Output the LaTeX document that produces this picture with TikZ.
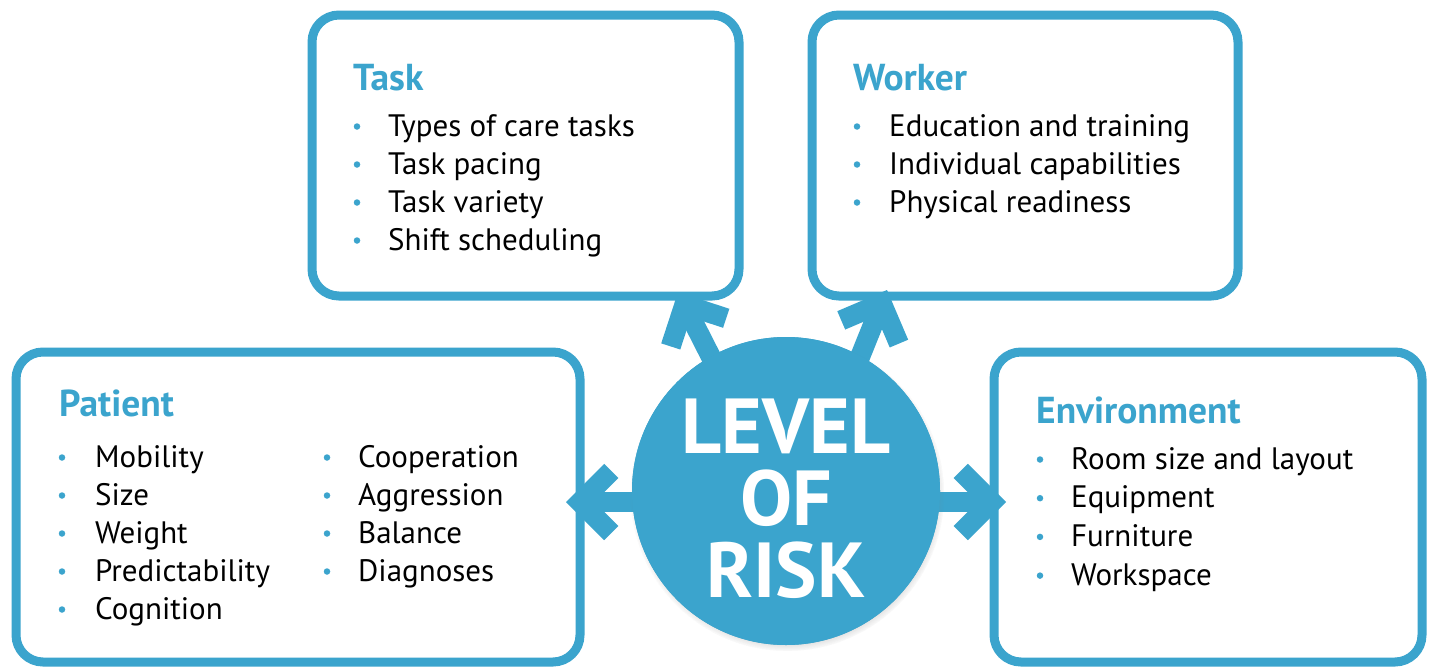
\documentclass[tikz,border=0pt]{standalone}
\usepackage{fontspec}
\setmainfont{PT Sans}
\usetikzlibrary{arrows.meta,shadows}

\definecolor{riskblue}{HTML}{3BA4CD}

% Thick open chevron tip for the risk connectors
\pgfdeclarearrow{
  name = Chevron,
  setup code = {
    \pgfarrowssettipend{0pt}
    \pgfarrowssetlineend{-20pt}
    \pgfarrowssetbackend{-52.3pt}
    \pgfarrowshullpoint{0pt}{0pt}
    \pgfarrowsupperhullpoint{-52.3pt}{38.2pt}
  },
  drawing code = {
    \pgfpathmoveto{\pgfpoint{0pt}{0pt}}
    \pgfpathlineto{\pgfpoint{-38.2pt}{38.2pt}}
    \pgfpathlineto{\pgfpoint{-52.3pt}{24.0pt}}
    \pgfpathlineto{\pgfpoint{-28.3pt}{0pt}}
    \pgfpathlineto{\pgfpoint{-52.3pt}{-24.0pt}}
    \pgfpathlineto{\pgfpoint{-38.2pt}{-38.2pt}}
    \pgfpathclose
    \pgfusepathqfill
  }
}

\tikzset{
  panel/.style={draw=riskblue, line width=9pt, rounded corners=27pt,
    fill=white, inner sep=0pt},
  head/.style={anchor=base west, inner sep=0pt, text=riskblue,
    font=\fontsize{37.5}{37.5}\selectfont\bfseries},
  entry/.style={anchor=base west, inner sep=0pt, text=black,
    font=\fontsize{31}{31}\selectfont},
  dot/.style={circle, fill=riskblue, inner sep=0pt, minimum size=6.5pt},
  link/.style={draw, color=riskblue, line width=20pt, -{Chevron}},
  hub/.style={circle, fill=riskblue, inner sep=0pt, minimum size=308pt,
    circular drop shadow={shadow xshift=1pt, shadow yshift=-3pt,
      opacity=0.35, shadow scale=1.02}},
  hubtext/.style={align=center, text=white, inner sep=0pt,
    font=\fontsize{78}{72}\selectfont\bfseries},
}

\begin{document}
\begin{tikzpicture}[x=1pt,y=-1pt]
\useasboundingbox[fill=white] (0,0) rectangle (1430,667);

% Four factor panels
\node[panel, minimum width=427pt, minimum height=281pt] (task)    at (525.5,155.5) {};
\node[panel, minimum width=426pt, minimum height=281pt] (worker)  at (1025,155.5) {};
\node[panel, minimum width=564pt, minimum height=310pt] (patient) at (298,507) {};
\node[panel, minimum width=428pt, minimum height=310pt] (environment) at (1208,507) {};

% Arrow end points
\coordinate (tipL)  at (566,502);
\coordinate (tipR)  at (1006,502);
\coordinate (tipUL) at (678,292);
\coordinate (tipUR) at (887,290);

% Central hub
\node[hub] (risk) at (786,491) {};

% Connectors; their shafts start under the hub face drawn next
\draw[link] (tipL -| risk.center) -- (tipL);
\draw[link] (tipR -| risk.center) -- (tipR);
\draw[link] ([xshift=-7pt]risk.center) -- (tipUL);
\draw[link] ([xshift=20pt]risk.center) -- (tipUR);

\node[hub] (riskface) at (risk.center) {};
\node[hubtext] (risklabel) at ([yshift=-8pt]risk.center) {LEVEL\\OF\\RISK};

% Task
\node[head] (taskhead) at (353,90) {Task};
\foreach \t [count=\i] in {Types of care tasks, Task pacing, Task variety, Shift scheduling} {
  \node[dot] (taskdot\i) at (357,{126.5+38*(\i-1)}) {};
  \node[entry] (taskitem\i) at (388,{136+38*(\i-1)}) {\t};
}

% Worker
\node[head] (workerhead) at (853,90) {Worker};
\foreach \t [count=\i] in {Education and training, Individual capabilities, Physical readiness} {
  \node[dot] (workerdot\i) at (857,{126.5+38*(\i-1)}) {};
  \node[entry] (workeritem\i) at (889,{136+38*(\i-1)}) {\t};
}

% Patient
\node[head] (patienthead) at (59,416) {Patient};
\foreach \t [count=\i] in {Mobility, Size, Weight, Predictability, Cognition} {
  \node[dot] (patientdot\i) at (62,{457.5+38*(\i-1)}) {};
  \node[entry] (patientitem\i) at (95,{467+38*(\i-1)}) {\t};
}
\foreach \t [count=\i] in {Cooperation, Aggression, Balance, Diagnoses} {
  \node[dot] (patientdotb\i) at (327,{457.5+38*(\i-1)}) {};
  \node[entry] (patientitemb\i) at (358,{467+38*(\i-1)}) {\t};
}

% Environment
\node[head] (envhead) at (1036,423) {Environment};
\foreach \t [count=\i] in {Room size and layout, Equipment, Furniture, Workspace} {
  \node[dot] (envdot\i) at (1040,{459.5+38.7*(\i-1)}) {};
  \node[entry] (envitem\i) at (1071,{469+38.7*(\i-1)}) {\t};
}
\end{tikzpicture}
\end{document}
